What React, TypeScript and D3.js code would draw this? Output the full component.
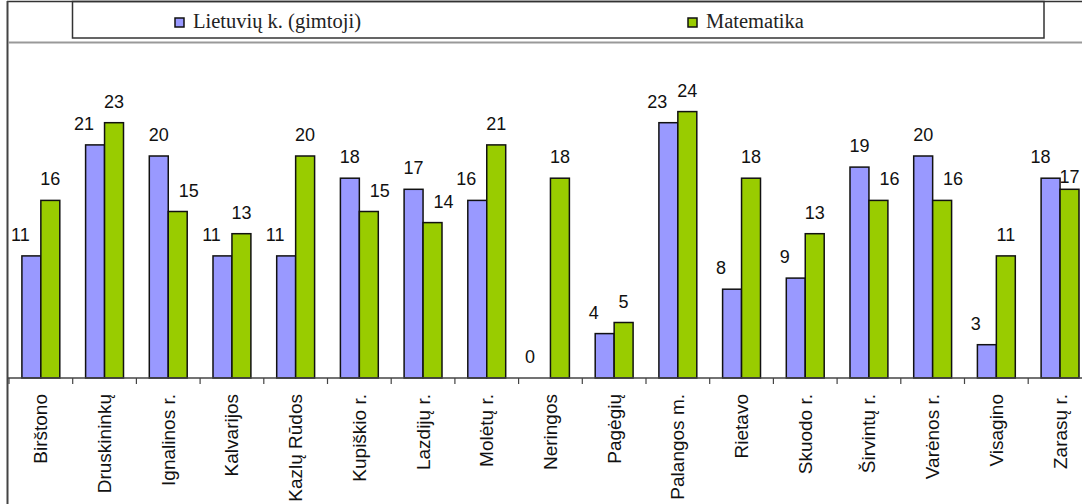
import React from "react";
import * as d3 from "d3";

const categories = [
  "Birštono", "Druskininkų", "Ignalinos r.", "Kalvarijos", "Kazlų Rūdos",
  "Kupiškio r.", "Lazdijų r.", "Molėtų r.", "Neringos", "Pagėgių",
  "Palangos m.", "Rietavo", "Skuodo r.", "Širvintų r.", "Varėnos r.",
  "Visagino", "Zarasų r.",
];
const lietuviu = [11, 21, 20, 11, 11, 18, 17, 16, 0, 4, 23, 8, 9, 19, 20, 3, 18];
const matematika = [16, 23, 15, 13, 20, 15, 14, 21, 18, 5, 24, 18, 13, 16, 16, 11, 17];
const seriesNames = ["Lietuvių k. (gimtoji)", "Matematika"];
const seriesColors = ["#9999FF", "#99CC00"];

const W = 1082;
const H = 504;

export default function App() {
  const step = 63.7;
  const x0 = d3
    .scaleBand<string>()
    .domain(categories)
    .range([9, 9 + step * categories.length])
    .paddingInner(0.405)
    .paddingOuter(0.2025);
  const x1 = d3.scaleBand<number>().domain([0, 1]).range([0, x0.bandwidth()]);
  const y = d3.scaleLinear().domain([0, 30]).range([378, 45]);
  const series = [lietuviu, matematika];

  return (
    <svg
      width={W}
      height={H}
      style={{ position: "absolute", left: 0, top: 0, background: "#fff" }}
      fontFamily="'Liberation Sans', Arial, sans-serif"
    >
      <rect x={0} y={0} width={W} height={H} fill="#fff" />
      {/* outer frame */}
      <line x1={7} x2={W} y1={1.5} y2={1.5} stroke="#333" strokeWidth={1.5} />
      <line x1={7.5} x2={7.5} y1={1} y2={H} stroke="#444" strokeWidth={2} />
      {/* legend box */}
      <rect x={72.5} y={1.5} width={971.5} height={36.5} fill="none" stroke="#333" strokeWidth={1.5} />
      {[0, 1].map((i) => {
        const lx = i === 0 ? 175 : 688;
        return (
          <g key={i}>
            <rect x={lx} y={18} width={9} height={9} fill={seriesColors[i]} stroke="#111" strokeWidth={1.5} />
            <text x={lx + 18} y={28} fontFamily="'Liberation Serif', 'Times New Roman', serif" fontSize={20.5} fill="#222">
              {seriesNames[i]}
            </text>
          </g>
        );
      })}
      {/* plot area top */}
      <line x1={8} x2={W} y1={42.5} y2={42.5} stroke="#999" strokeWidth={2} />
      {/* bars */}
      {categories.map((c, ci) =>
        series.map((s, si) => {
          const v = s[ci];
          const bx = (x0(c) as number) + (x1(si) as number);
          const bw = x1.bandwidth();
          return (
            <rect
              key={c + si}
              x={bx}
              y={y(v)}
              width={bw}
              height={y(0) - y(v)}
              fill={seriesColors[si]}
              stroke="#111"
              strokeWidth={1.5}
            />
          );
        })
      )}
      {/* value labels */}
      {categories.map((c, ci) =>
        series.map((s, si) => {
          const v = s[ci];
          const other = series[1 - si][ci];
          const bx = (x0(c) as number) + (x1(si) as number) + x1.bandwidth() / 2;
          // lower bar's label moves outward; if that would leave the chart, move the blue one instead
          const greenShiftFits = (x0(c) as number) + x0.bandwidth() + 22 < W;
          let dx = 0;
          if (v < other) dx = si === 0 ? -11 : greenShiftFits ? 11 : 0;
          else if (si === 0 && !greenShiftFits && v > other) dx = -10;
          const closeNoShift = !greenShiftFits && si === 1;
          return (
            <text
              key={"l" + c + si}
              x={bx + dx}
              y={y(v) - (closeNoShift ? 6 : 15)}
              textAnchor="middle"
              fontSize={18}
              fill="#111"
            >
              {v}
            </text>
          );
        })
      )}
      {/* axis */}
      <line x1={8} x2={W} y1={378} y2={378} stroke="#444" strokeWidth={1.5} />
      {d3.range(categories.length + 1).map((i) => (
        <line key={"t" + i} x1={9 + i * step} x2={9 + i * step} y1={378} y2={384} stroke="#444" strokeWidth={1.2} />
      ))}
      {categories.map((c) => {
        const cx = (x0(c) as number) + x0.bandwidth() / 2;
        return (
          <text
            key={"c" + c}
            transform={`translate(${cx + 6.5},394) rotate(-90)`}
            textAnchor="end"
            fontSize={19}
            fill="#111"
          >
            {c}
          </text>
        );
      })}
    </svg>
  );
}
